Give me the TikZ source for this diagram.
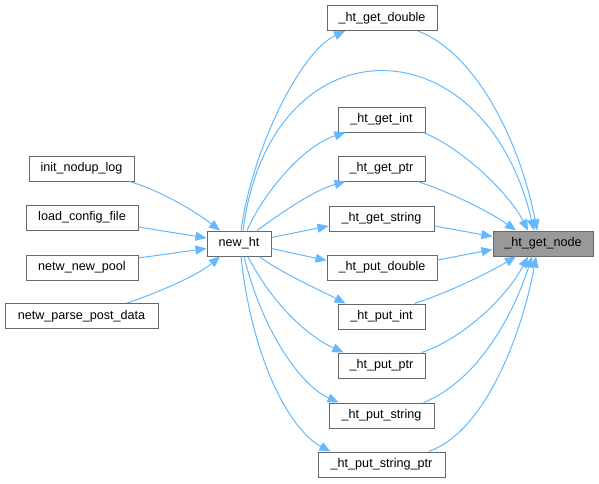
\documentclass[tikz,border=0pt]{standalone}
\usepackage{fontspec}
\setmainfont{Liberation Sans}
\usetikzlibrary{arrows.meta}
\definecolor{edgec}{HTML}{63B8FF}
\definecolor{boxline}{HTML}{666666}
\definecolor{hlfill}{HTML}{999999}
\begin{document}
\begin{tikzpicture}[x=1pt,y=-1pt,
  fn/.style={draw=boxline, fill=white, line width=1pt, minimum height=25pt, inner sep=0pt,
    font=\fontsize{12.6}{14}\selectfont, text height=9.2pt, text depth=2.6pt},
  hl/.style={fn, fill=hlfill},
  e/.style={draw=edgec, line width=1pt, -{Triangle[length=11pt,width=9pt]}}]
\useasboundingbox (0,0) rectangle (599,483);
% left callers
\node[fn, minimum width=105pt] (init) at (81.5,168.5) {init\_nodup\_log};
\node[fn, minimum width=112pt] (load) at (82,217.5) {load\_config\_file};
\node[fn, minimum width=112pt] (pool) at (82,267.5) {netw\_new\_pool};
\node[fn, minimum width=153pt] (parse) at (81.5,316) {netw\_parse\_post\_data};
\node[fn, minimum width=64pt] (newht) at (239,243.5) {new\_ht};
% middle
\node[fn, minimum width=110pt] (gd) at (382,18) {\_ht\_get\_double};
\node[fn, minimum width=87pt] (gi) at (381.5,119.5) {\_ht\_get\_int};
\node[fn, minimum width=87pt] (gp) at (381.5,168.5) {\_ht\_get\_ptr};
\node[fn, minimum width=105pt] (gs) at (381.5,218.5) {\_ht\_get\_string};
\node[fn, minimum width=110pt] (pd) at (382,267.5) {\_ht\_put\_double};
\node[fn, minimum width=87pt] (pi) at (381.5,316.5) {\_ht\_put\_int};
\node[fn, minimum width=87pt] (pp) at (381.5,365.5) {\_ht\_put\_ptr};
\node[fn, minimum width=105pt] (ps) at (381.5,415.5) {\_ht\_put\_string};
\node[fn, minimum width=127pt] (psp) at (381.5,464.5) {\_ht\_put\_string\_ptr};
% target
\node[hl, minimum width=100pt] (gn) at (543,243.5) {\_ht\_get\_node};
% callers -> new_ht
\draw[e] ([xshift=48pt]init.south) .. controls (165,192) and (200,215) .. ([xshift=-19pt]newht.north);
\draw[e] ([yshift=-9.5pt]load.east) -- ([yshift=5.5pt]newht.west);
\draw[e] ([yshift=9.5pt]pool.east) -- ([yshift=-5pt]newht.west);
\draw[e] ([xshift=45.5pt]parse.north) .. controls (160,292) and (198,275) .. ([xshift=-19pt]newht.south);
% new_ht -> middle
\draw[e] ([xshift=2pt]newht.north) .. controls (252,150) and (300,52) .. ([xshift=-37pt]gd.south);
\draw[e] ([xshift=4pt]newht.north) .. controls (270,19) and (484,19) .. ([xshift=-9pt]gn.north);
\draw[e] ([xshift=8pt]newht.north) .. controls (265,190) and (305,145) .. ([xshift=-36pt]gi.south);
\draw[e] ([xshift=18pt]newht.north) .. controls (285,210) and (315,190) .. ([xshift=-36pt]gp.south);
\draw[e] ([yshift=6pt]newht.east) -- ([yshift=-7.5pt]gs.west);
\draw[e] ([yshift=-5pt]newht.east) -- ([yshift=7pt]pd.west);
\draw[e] ([xshift=20pt]newht.south) .. controls (285,275) and (320,290) .. ([xshift=-36pt]pi.north);
\draw[e] ([xshift=9pt]newht.south) .. controls (270,300) and (305,335) .. ([xshift=-38pt]pp.north);
\draw[e] ([xshift=5pt]newht.south) .. controls (262,330) and (300,385) .. ([xshift=-43pt]ps.north);
\draw[e] ([xshift=2pt]newht.south) .. controls (252,360) and (290,430) .. ([xshift=-51pt]psp.north);
% middle -> get_node
\draw[e] ([xshift=36pt]gd.south) .. controls (480,55) and (522,150) .. ([xshift=-6pt]gn.north);
\draw[e] ([xshift=42pt]gi.south) .. controls (465,150) and (510,195) .. ([xshift=-15pt]gn.north);
\draw[e] ([xshift=36pt]gp.south) .. controls (450,192) and (490,212) .. ([xshift=-27pt]gn.north);
\draw[e] ([yshift=-7.5pt]gs.east) -- ([yshift=7pt]gn.west);
\draw[e] ([yshift=7.5pt]pd.east) -- ([yshift=-6pt]gn.west);
\draw[e] ([xshift=33pt]pi.north) .. controls (450,292) and (490,272) .. ([xshift=-27pt]gn.south);
\draw[e] ([xshift=40pt]pp.north) .. controls (460,340) and (505,300) .. ([xshift=-15pt]gn.south);
\draw[e] ([xshift=42pt]ps.north) .. controls (480,380) and (515,310) .. ([xshift=-11pt]gn.south);
\draw[e] ([xshift=47pt]psp.north) .. controls (490,430) and (525,320) .. ([xshift=-7pt]gn.south);
\end{tikzpicture}
\end{document}
